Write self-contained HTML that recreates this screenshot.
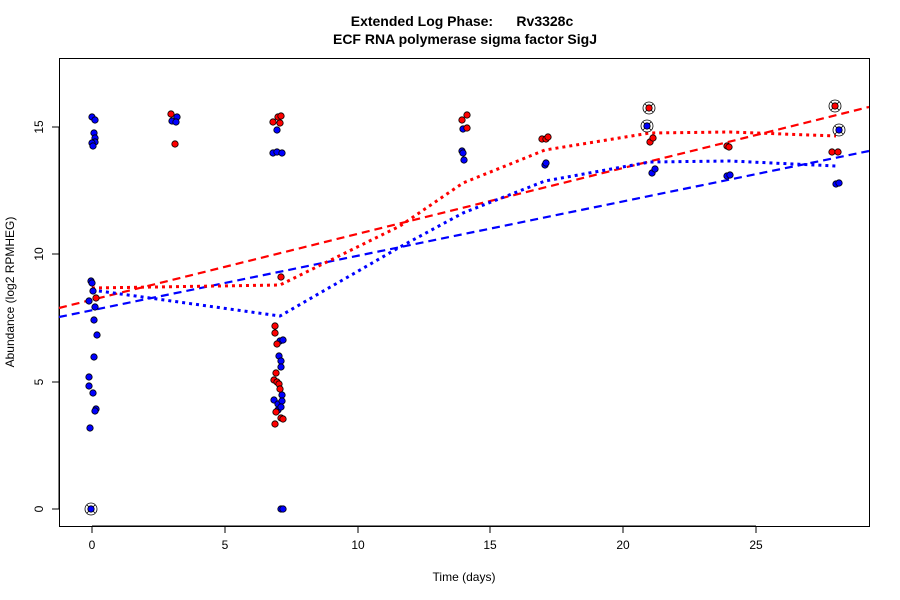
<!DOCTYPE html>
<html><head><meta charset="utf-8"><style>body{margin:0;background:#fff}svg{display:block}text{font-family:"Liberation Sans",sans-serif}</style></head><body>
<svg width="900" height="600" xmlns="http://www.w3.org/2000/svg">
<text x="462" y="26" text-anchor="middle" font-size="14" font-weight="bold" xml:space="preserve">Extended Log Phase:      Rv3328c</text>
<text x="465" y="44" text-anchor="middle" font-size="14" font-weight="bold">ECF RNA polymerase sigma factor SigJ</text>
<rect x="59.5" y="58.5" width="810" height="468" fill="none" stroke="#000"/>
<g stroke="#000" font-size="12" text-anchor="middle">
<line x1="92" y1="526" x2="756" y2="526"/>
<line x1="92" y1="526" x2="92" y2="533"/><line x1="225" y1="526" x2="225" y2="533"/><line x1="358" y1="526" x2="358" y2="533"/><line x1="490" y1="526" x2="490" y2="533"/><line x1="623" y1="526" x2="623" y2="533"/><line x1="756" y1="526" x2="756" y2="533"/>
<line x1="59" y1="127" x2="59" y2="509"/>
<line x1="52" y1="509" x2="59" y2="509"/><line x1="52" y1="382" x2="59" y2="382"/><line x1="52" y1="254" x2="59" y2="254"/><line x1="52" y1="127" x2="59" y2="127"/>
</g>
<g font-size="12" text-anchor="middle">
<text x="92" y="549">0</text><text x="225" y="549">5</text><text x="358" y="549">10</text><text x="490" y="549">15</text><text x="623" y="549">20</text><text x="756" y="549">25</text>
<text transform="translate(43,509) rotate(-90)">0</text><text transform="translate(43,382) rotate(-90)">5</text><text transform="translate(43,254) rotate(-90)">10</text><text transform="translate(43,127) rotate(-90)">15</text>
<text x="464" y="581">Time  (days)</text>
<text transform="translate(14,292) rotate(-90)">Abundance  (log2 RPMHEG)</text>
</g>
<g fill="none" stroke-width="2.2">
<line x1="59" y1="308" x2="869" y2="107" stroke="#f00" stroke-dasharray="8,5"/>
<line x1="59" y1="317" x2="869" y2="151" stroke="#00f" stroke-dasharray="8,5"/>
<polyline points="92,288 280,285 400,226 463,183 545,150 650,133 730,132 836,136" stroke="#f00" stroke-dasharray="3,4" stroke-width="3"/>
<polyline points="92,290 280,316 400,247 463,213 545,181 650,162 730,161 836,166" stroke="#00f" stroke-dasharray="3,4" stroke-width="3"/>
</g>
<g stroke="#000" stroke-width="0.8" fill="none">
<circle cx="91" cy="509" r="6"/><circle cx="649" cy="108" r="6"/><circle cx="647" cy="126" r="6"/><circle cx="835" cy="106" r="6"/><circle cx="839" cy="130" r="6"/>
<path d="M87,505l8,8M95,505l-8,8M645,104l8,8M653,104l-8,8M643,122l8,8M651,122l-8,8M831,102l8,8M839,102l-8,8M835,126l8,8M843,126l-8,8"/>
</g>
<g stroke="#000" stroke-width="0.8" fill="#00f">
<circle cx="92" cy="117" r="3.2"/><circle cx="95" cy="120" r="3.2"/><circle cx="94" cy="133" r="3.2"/><circle cx="95" cy="138" r="3.2"/><circle cx="95" cy="142" r="3.2"/><circle cx="92" cy="143" r="3.2"/><circle cx="93" cy="146" r="3.2"/>
<circle cx="91" cy="281" r="3.2"/><circle cx="92" cy="283" r="3.2"/><circle cx="93" cy="291" r="3.2"/><circle cx="89" cy="301" r="3.2"/><circle cx="95" cy="307" r="3.2"/><circle cx="94" cy="320" r="3.2"/><circle cx="97" cy="335" r="3.2"/><circle cx="94" cy="357" r="3.2"/><circle cx="89" cy="377" r="3.2"/><circle cx="89" cy="386" r="3.2"/><circle cx="93" cy="393" r="3.2"/><circle cx="96" cy="409" r="3.2"/><circle cx="95" cy="411" r="3.2"/><circle cx="90" cy="428" r="3.2"/><circle cx="91" cy="509" r="3.2"/>
<circle cx="172" cy="121" r="3.2"/><circle cx="177" cy="117" r="3.2"/><circle cx="176" cy="122" r="3.2"/>
<circle cx="277" cy="130" r="3.2"/><circle cx="273" cy="153" r="3.2"/><circle cx="277" cy="152" r="3.2"/><circle cx="282" cy="153" r="3.2"/>
<circle cx="280" cy="341" r="3.2"/><circle cx="283" cy="340" r="3.2"/><circle cx="279" cy="356" r="3.2"/><circle cx="281" cy="361" r="3.2"/><circle cx="281" cy="367" r="3.2"/><circle cx="274" cy="400" r="3.2"/><circle cx="278" cy="404" r="3.2"/><circle cx="282" cy="395" r="3.2"/><circle cx="282" cy="401" r="3.2"/><circle cx="278" cy="410" r="3.2"/><circle cx="281" cy="407" r="3.2"/><circle cx="281" cy="509" r="3.2"/><circle cx="283" cy="509" r="3.2"/>
<circle cx="463" cy="129" r="3.2"/><circle cx="462" cy="151" r="3.2"/><circle cx="463" cy="153" r="3.2"/><circle cx="464" cy="160" r="3.2"/>
<circle cx="545" cy="165" r="3.2"/><circle cx="546" cy="163" r="3.2"/>
<circle cx="647" cy="126" r="3.2"/><circle cx="652" cy="173" r="3.2"/><circle cx="655" cy="169" r="3.2"/>
<circle cx="727" cy="176" r="3.2"/><circle cx="730" cy="175" r="3.2"/>
<circle cx="839" cy="130" r="3.2"/><circle cx="836" cy="184" r="3.2"/><circle cx="839" cy="183" r="3.2"/>
</g>
<g stroke="#000" stroke-width="0.8" fill="#f00">
<circle cx="96" cy="298" r="3.2"/>
<circle cx="171" cy="114" r="3.2"/><circle cx="175" cy="144" r="3.2"/>
<circle cx="273" cy="122" r="3.2"/><circle cx="278" cy="117" r="3.2"/><circle cx="281" cy="116" r="3.2"/><circle cx="280" cy="123" r="3.2"/>
<circle cx="281" cy="277" r="3.2"/><circle cx="275" cy="326" r="3.2"/><circle cx="275" cy="333" r="3.2"/><circle cx="277" cy="344" r="3.2"/><circle cx="276" cy="373" r="3.2"/><circle cx="274" cy="380" r="3.2"/><circle cx="277" cy="382" r="3.2"/><circle cx="279" cy="384" r="3.2"/><circle cx="280" cy="389" r="3.2"/><circle cx="276" cy="412" r="3.2"/><circle cx="281" cy="418" r="3.2"/><circle cx="283" cy="419" r="3.2"/><circle cx="275" cy="424" r="3.2"/>
<circle cx="462" cy="120" r="3.2"/><circle cx="467" cy="115" r="3.2"/><circle cx="467" cy="128" r="3.2"/>
<circle cx="542" cy="139" r="3.2"/><circle cx="546" cy="139" r="3.2"/><circle cx="548" cy="137" r="3.2"/>
<circle cx="649" cy="108" r="3.2"/><circle cx="650" cy="142" r="3.2"/><circle cx="653" cy="138" r="3.2"/>
<circle cx="727" cy="146" r="3.2"/><circle cx="729" cy="147" r="3.2"/>
<circle cx="835" cy="106" r="3.2"/><circle cx="832" cy="152" r="3.2"/><circle cx="838" cy="152" r="3.2"/>
</g>
</svg>
</body></html>
